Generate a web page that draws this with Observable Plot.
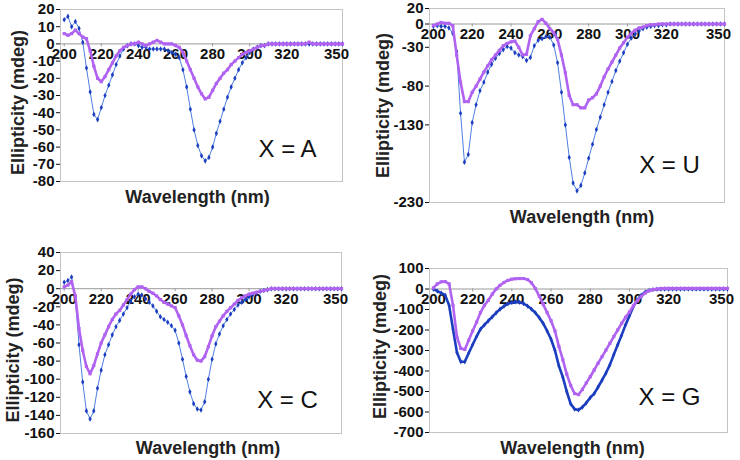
<!DOCTYPE html>
<html>
<head>
<meta charset="utf-8">
<script src="https://cdn.jsdelivr.net/npm/d3@7"></script>
<script src="https://cdn.jsdelivr.net/npm/@observablehq/plot@0.6"></script>
<style>
  html, body { margin: 0; padding: 0; background: #fff; }
  #chart { position: relative; width: 740px; height: 460px; background: #fff; font-family: "Liberation Sans", Arial, sans-serif; }
  #chart svg { position: absolute; }
</style>
</head>
<body>
<div id="chart"></div>
<script>
// Wavelength (nm), shared by all four panels
const wl = [200,202,204,206,208,210,212,214,216,218,220,222,224,226,228,230,232,234,236,238,
            240,242,244,246,248,250,252,254,256,258,260,262,264,266,268,270,272,274,276,278,
            280,282,284,286,288,290,292,294,296,298,300,302,304,306,308,310,312,314,316,318,
            320,322,324,326,328,330,332,334,336,338,340,342,344,346,348,350];

// X = A
const aBlue = [14,16,10,13,9,1,-14,-28,-41,-44,-37,-30,-24,-18,-12,-7,-3,-1,0,0,
               -1,-2,-2,-3,-3,-3,-3,-3,-4,-5,-6,-8,-15,-25,-38,-50,-59,-65,-68,-66,
               -60,-52,-45,-38,-31,-25,-20,-15,-11,-8,-5,-3,-2,-1,-1,0,0,0,0,0,
               0,0,0,0,0,0,0,0,0,0,0,0,0,0,0,0];
const aPurple = [6,5,6,8,6,4,3,-4,-13,-20,-22,-19,-15,-11,-7,-4,-2,-1,0,0,
                 1,0,-1,0,1,2,1,0,0,0,-1,-2,-5,-10,-15,-20,-25,-29,-32,-31,
                 -27,-23,-20,-17,-15,-12,-10,-8,-6,-5,-4,-3,-2,-1,-1,0,0,0,0,0,
                 0,0,0,0,0,0,1,0,0,0,0,0,0,0,0,0];
// X = U
const uBlue = [-3,-2,-3,-3,-5,-12,-35,-115,-178,-168,-127,-104,-86,-75,-62,-52,-44,-38,-33,-29,
               -31,-37,-40,-42,-47,-43,-28,-21,-19,-16,-17,-27,-50,-88,-130,-172,-205,-215,-208,-192,
               -173,-155,-136,-120,-104,-88,-74,-60,-48,-37,-26,-18,-13,-9,-6,-4,-3,-2,-2,-1,
               -1,0,0,0,0,0,0,0,0,0,0,0,0,0,0,0];
const uPurple = [-2,0,2,1,1,-2,-40,-75,-100,-100,-88,-80,-71,-62,-54,-46,-40,-34,-28,-25,
                 -23,-22,-30,-40,-39,-15,-6,3,6,1,-6,-11,-20,-40,-63,-92,-104,-104,-108,-108,
                 -98,-95,-90,-80,-68,-58,-49,-40,-31,-24,-17,-12,-8,-5,-4,-2,-1,-1,0,0,
                 0,0,0,0,0,0,0,0,0,0,0,0,0,0,0,0];
// X = C
const cBlue = [7,9,13,-10,-62,-103,-135,-144,-135,-110,-90,-73,-62,-51,-42,-35,-28,-21,-14,-9,
               -6,-7,-11,-15,-19,-25,-31,-34,-37,-41,-46,-60,-78,-97,-114,-127,-133,-134,-125,-100,
               -78,-61,-50,-41,-34,-28,-23,-18,-15,-12,-9,-7,-5,-3,-2,-1,0,0,0,0,
               0,0,0,0,0,0,0,0,0,0,0,0,0,0,0,0];
const cPurple = [2,4,8,-8,-44,-68,-86,-94,-85,-72,-60,-51,-42,-34,-28,-24,-18,-12,-6,-1,
                 2,2,0,-3,-5,-8,-12,-15,-17,-19,-21,-30,-40,-52,-63,-73,-79,-80,-75,-64,
                 -52,-42,-36,-30,-25,-21,-17,-13,-10,-8,-6,-5,-4,-3,-2,-1,0,0,0,0,
                 0,0,0,0,0,0,0,0,0,0,0,0,0,0,0,0];
// X = G
const gBlue = [0,-10,-20,-30,-80,-196,-310,-355,-355,-312,-272,-232,-196,-175,-155,-136,-116,-98,-84,-72,
               -66,-63,-65,-71,-83,-98,-116,-140,-168,-205,-245,-300,-375,-430,-500,-560,-586,-590,-576,-555,
               -530,-510,-478,-445,-410,-370,-320,-272,-225,-175,-130,-85,-55,-30,-15,-7,-3,-1,0,0,
               0,0,0,0,0,0,0,0,0,0,0,0,0,0,0,0];
const gPurple = [5,25,35,36,25,-80,-235,-290,-295,-250,-205,-162,-115,-80,-55,-25,0,18,32,42,
                 48,50,51,51,46,30,2,-35,-75,-115,-155,-205,-280,-345,-415,-470,-510,-515,-490,-458,
                 -428,-395,-362,-330,-298,-265,-232,-200,-168,-138,-112,-82,-56,-36,-20,-8,-3,0,2,3,
                 3,3,3,3,3,3,3,3,3,3,3,3,3,3,3,3];

// Tick labels
const xTicks = [200,220,240,260,280,300,320];
const xLastTick = [350];
const yTicksA = [20,10,0,-10,-20,-30,-40,-50,-60,-70,-80];
const yTicksU = [20,0,-30,-80,-130,-230];
const yTicksC = [40,20,0,-20,-40,-60,-80,-100,-120,-140,-160];
const yTicksG = [100,0,-100,-200,-300,-400,-500,-600,-700];
const labels = ["X = A", "X = U", "X = C", "X = G"];

const BLUE_DOT = "#1b3dbf", BLUE_LINE = "#4f7fe2", PURPLE = "#b062f0";
const FONT = "'Liberation Sans', Arial, sans-serif";

const series = (arr) => wl.map((w, i) => ({wl: w, v: arr[i]}));

const panels = [
  {blue: aBlue, purple: aPurple, yDom: [-80, 20], yTicks: yTicksA, label: labels[0],
   pos: [0, 0], m: [9, 28, 49, 60], yt: [-42, 7], xt: [-4, 16], lt: [227, 140], thick: false},
  {blue: uBlue, purple: uPurple, yDom: [-230, 20], yTicks: yTicksU, label: labels[1],
   pos: [370, 0], m: [8, 16, 28, 59], yt: [-46, 0], xt: [5, 15], lt: [240, 157], thick: false},
  {blue: cBlue, purple: cPurple, yDom: [-160, 40], yTicks: yTicksC, label: labels[2],
   pos: [0, 230], m: [22, 29, 27, 60], yt: [-47, 7], xt: [7, 15], lt: [227, 148], thick: false},
  {blue: gBlue, purple: gPurple, yDom: [-700, 100], yTicks: yTicksG, label: labels[3],
   pos: [370, 230], m: [38, 13, 28, 59], yt: [-49, -4], xt: [-6, 16], lt: [240, 129], thick: true}
];

const chart = document.getElementById("chart");
for (const p of panels) {
  const b = series(p.blue), q = series(p.purple);
  const svg = Plot.plot({
    width: 370, height: 230,
    marginTop: p.m[0], marginRight: p.m[1], marginBottom: p.m[2], marginLeft: p.m[3],
    style: {background: "transparent", overflow: "visible", fontFamily: FONT, color: "#111"},
    x: {domain: [198, 350], axis: null},
    y: {domain: p.yDom, axis: null},
    marks: [
      Plot.frame({stroke: "#c4c4c4"}),
      Plot.ruleY([0], {stroke: "#9a9a9a", strokeWidth: 1}),
      Plot.ruleX(xTicks.concat(xLastTick), {x: d => d, y1: 0, y2: 0, insetBottom: -3, stroke: "#9a9a9a"}),
      Plot.axisY(p.yTicks, {tickSize: 4, tickPadding: 2, fontSize: 15, fontWeight: "bold",
                             tickFormat: d => String(d), label: null, color: "#111"}),
      Plot.text(xTicks, {x: d => d, y: 0, dy: 10, text: d => String(d), fontSize: 15, fontWeight: "bold", fill: "#111"}),
      Plot.text(xLastTick, {x: d => d, y: 0, dy: 10, dx: -6, text: d => String(d), fontSize: 15, fontWeight: "bold", fill: "#111"}),
      Plot.line(b, {x: "wl", y: "v", stroke: p.thick ? BLUE_DOT : BLUE_LINE, strokeWidth: p.thick ? 2.6 : 1}),
      Plot.dot(b, {x: "wl", y: "v", symbol: "diamond", r: p.thick ? 1.6 : 1.7, fill: BLUE_DOT, stroke: "none"}),
      Plot.line(q, {x: "wl", y: "v", stroke: PURPLE, strokeWidth: 2.6}),
      Plot.dot(q, {x: "wl", y: "v", symbol: "square", r: 1.8, fill: PURPLE, stroke: "none"}),
      Plot.text([p.label], {frameAnchor: "top-left", dx: p.lt[0], dy: p.lt[1], fontSize: 24, fill: "#111",
                            textAnchor: "middle", lineAnchor: "middle"}),
      Plot.text(["Ellipticity (mdeg)"], {frameAnchor: "left", dx: p.yt[0], dy: p.yt[1], rotate: -90,
                                         textAnchor: "middle", lineAnchor: "middle",
                                         fontSize: 18, fontWeight: "bold", fill: "#222"}),
      Plot.text(["Wavelength (nm)"], {frameAnchor: "bottom", dx: p.xt[0], dy: p.xt[1],
                                      textAnchor: "middle", lineAnchor: "middle",
                                      fontSize: 18, fontWeight: "bold", fill: "#222"})
    ]
  });
  svg.style.left = p.pos[0] + "px";
  svg.style.top = p.pos[1] + "px";
  chart.appendChild(svg);
}
</script>
</body>
</html>
